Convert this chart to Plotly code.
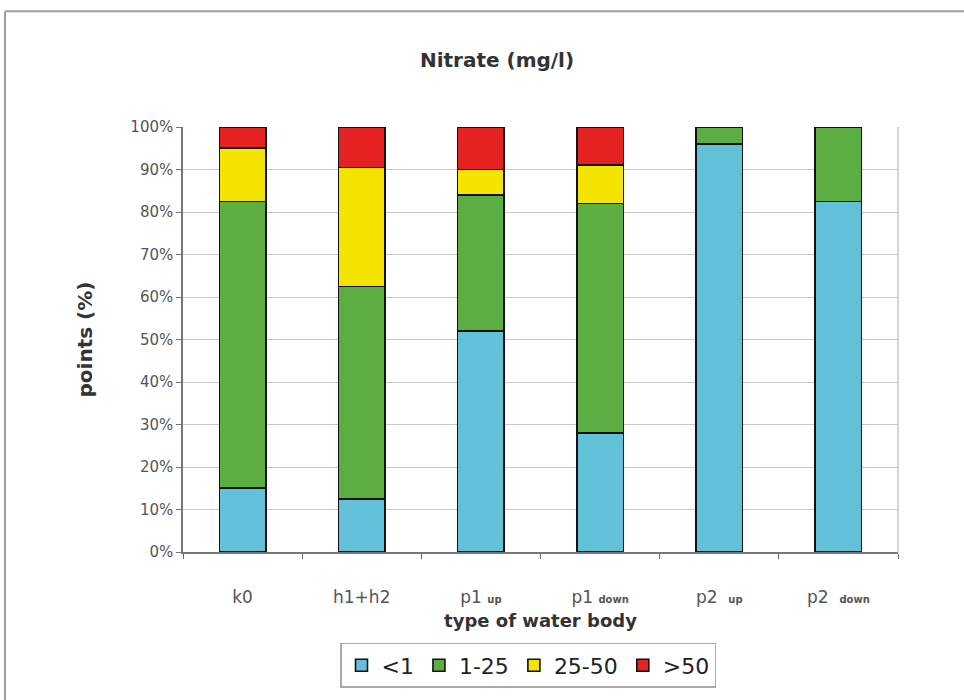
import plotly.graph_objects as go

categories = ["k0", "h1+h2", "p1 <span style='font-size:10px'><b>up</b></span>",
              "p1 <span style='font-size:10px'><b>down</b></span>",
              "p2  <span style='font-size:10px'><b>up</b></span>",
              "p2  <span style='font-size:10px'><b>down</b></span>"]
series_names = ["<1", "1-25", "25-50", ">50"]
lt1 = [15.0, 12.5, 52.0, 28.0, 96.0, 82.5]
r1_25 = [67.5, 50.0, 32.0, 54.0, 4.0, 17.5]
r25_50 = [12.5, 28.0, 6.0, 9.0, 0.0, 0.0]
gt50 = [5.0, 9.5, 10.0, 9.0, 0.0, 0.0]
colors = ["#62c0d8", "#5cae42", "#f5e400", "#e42222"]
y_ticks = [0, 10, 20, 30, 40, 50, 60, 70, 80, 90, 100]
y_ticklabels = [f"{v}%" for v in y_ticks]

fig = go.Figure()
for name, vals, col in zip(series_names, [lt1, r1_25, r25_50, gt50], colors):
    fig.add_trace(go.Bar(x=categories, y=vals, name=name, width=0.39,
                         marker=dict(color=col, line=dict(color="#111111", width=1.6))))

W, H = 964, 700
L, R, T, B = 183, 898, 127, 557
def px(x):
    return (x - L) / (R - L)
def py(y):
    return (B - y) / (B - T)

FONT = "DejaVu Sans, Arial"
fig.update_layout(
    width=W, height=H, barmode="stack",
    margin=dict(l=L, r=W - R, t=T, b=H - B),
    paper_bgcolor="white", plot_bgcolor="white",
    font=dict(family=FONT, color="#444"),
    title=dict(text="<b>Nitrate (mg/l)</b>", x=px(497), xref="paper", xanchor="center",
               y=1 - 60 / H, yanchor="middle", font=dict(size=20, color="#333")),
    xaxis=dict(tickson="boundaries", ticks="outside", ticklen=5, tickcolor="#666",
               showline=True, linecolor="#777", linewidth=1.5,
               tickfont=dict(size=17, color="#555"), ticklabelstandoff=29,
               title=dict(text="<b>type of water body</b>", font=dict(size=18, color="#333"), standoff=8),
               showgrid=False, mirror=False),
    yaxis=dict(range=[0, 100], tickvals=y_ticks, ticktext=y_ticklabels,
               ticks="outside", ticklen=5, tickcolor="#777",
               showline=True, linecolor="#777", linewidth=1.5,
               gridcolor="#c8c8c8", gridwidth=1.2,
               tickfont=dict(size=15, color="#555"),
               title=dict(text="<b>points (%)</b>", font=dict(size=20, color="#333"), standoff=32)),
    legend=dict(orientation="h", x=px(340), xanchor="left", y=py(649), yanchor="top",
                font=dict(size=22, color="#222"), bordercolor="#aaa", borderwidth=1.5,
                traceorder="normal", itemwidth=30, bgcolor="white"),
    showlegend=True,
)

# right border of plot area
fig.add_shape(type="line", xref="paper", yref="paper", x0=1, x1=1, y0=0, y1=1,
              line=dict(color="#c8c8c8", width=1.5))
# outer frame (top and left)
fig.add_shape(type="line", xref="paper", yref="paper", x0=px(5), x1=px(970), y0=py(10), y1=py(10),
              line=dict(color="#a0a0a0", width=2))
fig.add_shape(type="line", xref="paper", yref="paper", x0=px(5), x1=px(5), y0=py(10), y1=py(710),
              line=dict(color="#a0a0a0", width=2))

fig.write_html("out.html")
